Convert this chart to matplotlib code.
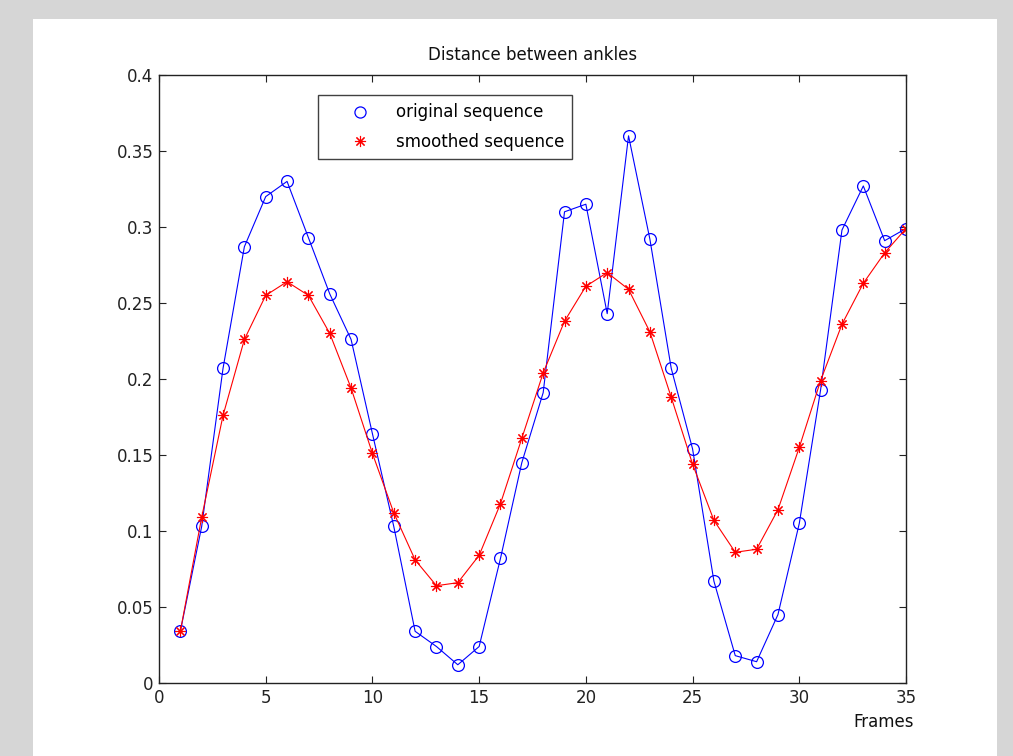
import matplotlib
matplotlib.use("Agg")
import matplotlib.pyplot as plt
from matplotlib.patches import Rectangle

# ---------------------------------------------------------------------------
# Data
# ---------------------------------------------------------------------------
frames = list(range(1, 36))

original = [0.034, 0.103, 0.207, 0.287, 0.320, 0.330, 0.293, 0.256, 0.226, 0.164,
            0.103, 0.034, 0.024, 0.012, 0.024, 0.082, 0.145, 0.191, 0.310, 0.315,
            0.243, 0.360, 0.292, 0.207, 0.154, 0.067, 0.018, 0.014, 0.045, 0.105,
            0.193, 0.298, 0.327, 0.291, 0.299]

smoothed = [0.034, 0.109, 0.176, 0.226, 0.255, 0.264, 0.255, 0.230, 0.194, 0.151,
            0.112, 0.081, 0.064, 0.066, 0.084, 0.118, 0.161, 0.204, 0.238, 0.261,
            0.270, 0.259, 0.231, 0.188, 0.144, 0.107, 0.086, 0.088, 0.114, 0.155,
            0.199, 0.236, 0.263, 0.283, 0.299]

x_ticks = [0, 5, 10, 15, 20, 25, 30, 35]
y_ticks = [0, 0.05, 0.1, 0.15, 0.2, 0.25, 0.3, 0.35, 0.4]
y_tick_labels = ["0", "0.05", "0.1", "0.15", "0.2", "0.25", "0.3", "0.35", "0.4"]

plt.rcParams["font.family"] = ["DejaVu Sans"]
FS = 12

# MATLAB-style asterisk: plus + cross (8 spokes)
STAR = (8, 2, 0)

W, H = 1013, 756
fig = plt.figure(figsize=(W / 100, H / 100), dpi=100)
fig.patch.set_facecolor("#d6d6d6")
fig.patches.append(Rectangle((33 / W, 0), (997 - 33) / W, (H - 19) / H,
                             transform=fig.transFigure, facecolor="white",
                             edgecolor="none", zorder=-10))

ax = fig.add_axes([159 / W, (H - 683) / H, (906 - 159) / W, (683 - 75) / H])

ax.plot(frames, original, color="#0000ff", lw=0.8, marker="o", ms=8.5,
        mfc="none", mec="#0000ff", mew=0.9, label="original sequence")
ax.plot(frames, smoothed, color="#ff0000", lw=0.8, marker=STAR, ms=8,
        mec="#ff0000", mew=0.8, label="smoothed sequence")

ax.set_xlim(0, 35)
ax.set_ylim(0, 0.4)
ax.set_xticks(x_ticks)
ax.set_yticks(y_ticks)
ax.set_yticklabels(y_tick_labels)
ax.tick_params(direction="in", length=5, width=0.8, top=True, right=True,
               labelsize=FS, pad=4, colors="#222222")
for s in ax.spines.values():
    s.set_linewidth(1.0)
    s.set_color("#222222")

ax.set_title("Distance between ankles", fontsize=FS, pad=11, color="#111111")
fig.text(914 / W, (H - 713) / H, "Frames", ha="right", va="top",
         fontsize=FS, color="#111111")

leg = ax.legend(handles=[
    plt.Line2D([], [], ls="none", marker="o", ms=8, mfc="none",
               mec="#0000ff", mew=0.9, label="original sequence"),
    plt.Line2D([], [], ls="none", marker=STAR, ms=8,
               mec="#ff0000", mew=0.8, label="smoothed sequence")],
    loc="upper left", bbox_to_anchor=((318 - 159) / 747, (683 - 95) / 608),
    borderaxespad=0, fontsize=FS, frameon=True, fancybox=False,
    borderpad=0.5, handlelength=4.0, labelspacing=0.7, handletextpad=0.15)
leg.get_frame().set_edgecolor("#111111")
leg.get_frame().set_linewidth(1.0)

fig.savefig("out.png", dpi=100, facecolor=fig.get_facecolor())
